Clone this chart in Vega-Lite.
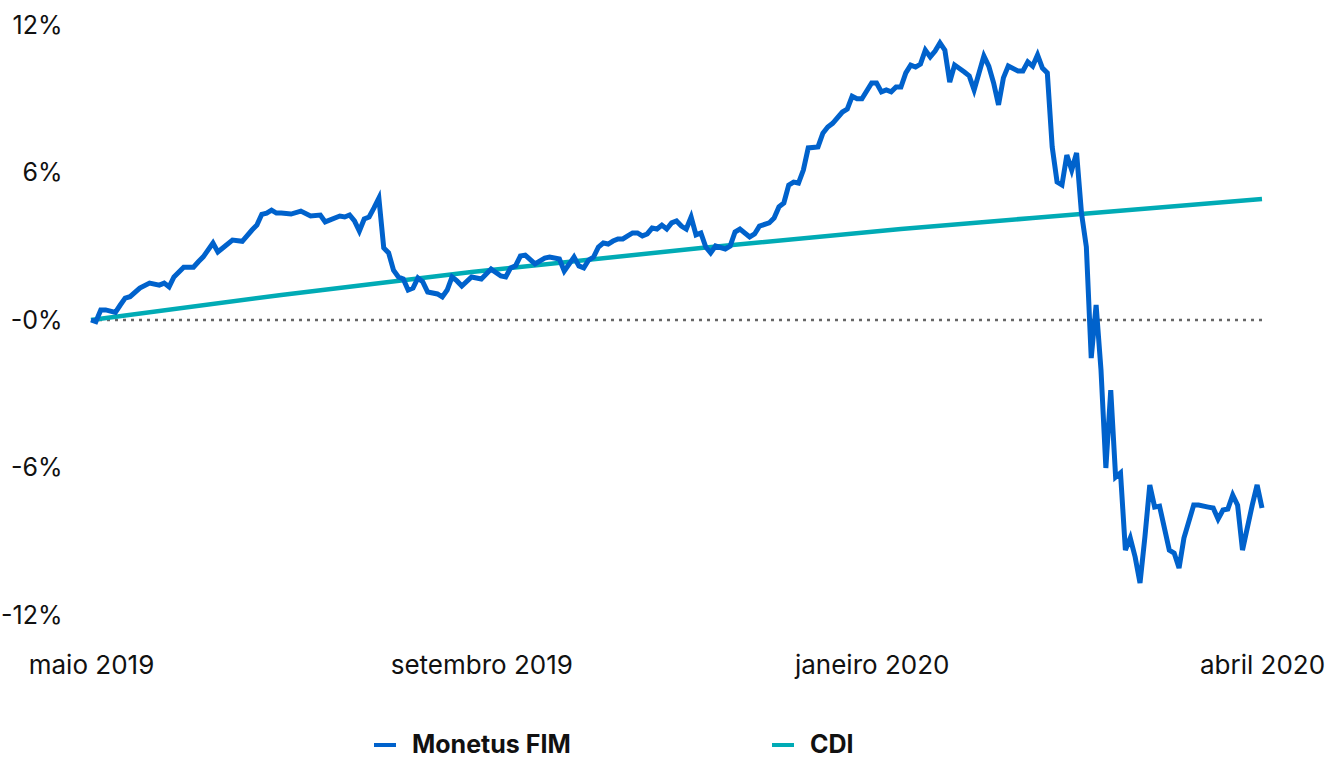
{
  "$schema": "https://vega.github.io/schema/vega-lite/v6.json",
  "width": 1171,
  "height": 590,
  "autosize": {"type": "none"},
  "padding": {"left": 91, "top": 25, "right": 76, "bottom": 143},
  "background": "white",
  "config": {"font": "Inter", "view": {"stroke": null}},
  "datasets": {
    "cdi": [
      {"d": 0, "v": 0}, {"d": 39, "v": 1.02}, {"d": 78, "v": 1.95}, {"d": 125, "v": 2.93},
      {"d": 166, "v": 3.7}, {"d": 193, "v": 4.15}, {"d": 240, "v": 4.92}
    ],
    "monetus": [
      {"d": 0, "v": 0}, {"d": 1, "v": -0.07}, {"d": 2, "v": 0.41}, {"d": 3, "v": 0.41}, {"d": 5, "v": 0.31},
      {"d": 6, "v": 0.61}, {"d": 7, "v": 0.89}, {"d": 8, "v": 0.95}, {"d": 10, "v": 1.3}, {"d": 12, "v": 1.5},
      {"d": 14, "v": 1.42}, {"d": 15, "v": 1.5}, {"d": 16, "v": 1.35}, {"d": 17, "v": 1.75}, {"d": 19, "v": 2.15},
      {"d": 21, "v": 2.15}, {"d": 22, "v": 2.37}, {"d": 23, "v": 2.57}, {"d": 25, "v": 3.13}, {"d": 26, "v": 2.77},
      {"d": 27, "v": 2.93}, {"d": 29, "v": 3.25}, {"d": 31, "v": 3.2}, {"d": 33, "v": 3.66}, {"d": 34, "v": 3.86},
      {"d": 35, "v": 4.3}, {"d": 36, "v": 4.35}, {"d": 37, "v": 4.47}, {"d": 38, "v": 4.35}, {"d": 39, "v": 4.35},
      {"d": 41, "v": 4.31}, {"d": 43, "v": 4.43}, {"d": 45, "v": 4.23}, {"d": 47, "v": 4.27}, {"d": 48, "v": 3.99},
      {"d": 51, "v": 4.23}, {"d": 52, "v": 4.19}, {"d": 53, "v": 4.27}, {"d": 54, "v": 4.03}, {"d": 55, "v": 3.62},
      {"d": 56, "v": 4.11}, {"d": 57, "v": 4.19}, {"d": 58, "v": 4.56}, {"d": 59, "v": 4.96}, {"d": 60, "v": 2.93},
      {"d": 61, "v": 2.73}, {"d": 62, "v": 2.03}, {"d": 63, "v": 1.75}, {"d": 64, "v": 1.67}, {"d": 65, "v": 1.22},
      {"d": 66, "v": 1.3}, {"d": 67, "v": 1.71}, {"d": 68, "v": 1.55}, {"d": 69, "v": 1.14}, {"d": 71, "v": 1.06},
      {"d": 72, "v": 0.94}, {"d": 73, "v": 1.22}, {"d": 74, "v": 1.75}, {"d": 75, "v": 1.59}, {"d": 76, "v": 1.38},
      {"d": 78, "v": 1.75}, {"d": 80, "v": 1.67}, {"d": 82, "v": 2.07}, {"d": 84, "v": 1.79}, {"d": 85, "v": 1.75},
      {"d": 86, "v": 2.12}, {"d": 87, "v": 2.2}, {"d": 88, "v": 2.6}, {"d": 89, "v": 2.64}, {"d": 91, "v": 2.28},
      {"d": 93, "v": 2.52}, {"d": 94, "v": 2.56}, {"d": 96, "v": 2.48}, {"d": 97, "v": 1.99}, {"d": 99, "v": 2.56},
      {"d": 100, "v": 2.2}, {"d": 101, "v": 2.12}, {"d": 102, "v": 2.44}, {"d": 103, "v": 2.56}, {"d": 104, "v": 2.97},
      {"d": 105, "v": 3.13}, {"d": 106, "v": 3.09}, {"d": 107, "v": 3.21}, {"d": 108, "v": 3.3}, {"d": 109, "v": 3.3},
      {"d": 110, "v": 3.42}, {"d": 111, "v": 3.54}, {"d": 112, "v": 3.54}, {"d": 113, "v": 3.42}, {"d": 114, "v": 3.5},
      {"d": 115, "v": 3.74}, {"d": 116, "v": 3.7}, {"d": 117, "v": 3.86}, {"d": 118, "v": 3.7}, {"d": 119, "v": 3.95},
      {"d": 120, "v": 4.03}, {"d": 121, "v": 3.82}, {"d": 122, "v": 3.7}, {"d": 123, "v": 4.19}, {"d": 124, "v": 3.46},
      {"d": 125, "v": 3.54}, {"d": 126, "v": 2.97}, {"d": 127, "v": 2.73}, {"d": 128, "v": 3.01}, {"d": 130, "v": 2.89},
      {"d": 131, "v": 3.01}, {"d": 132, "v": 3.58}, {"d": 133, "v": 3.7}, {"d": 135, "v": 3.38}, {"d": 136, "v": 3.5},
      {"d": 137, "v": 3.82}, {"d": 139, "v": 3.95}, {"d": 140, "v": 4.15}, {"d": 141, "v": 4.6}, {"d": 142, "v": 4.76},
      {"d": 143, "v": 5.49}, {"d": 144, "v": 5.61}, {"d": 145, "v": 5.57}, {"d": 146, "v": 6.1}, {"d": 147, "v": 7.0},
      {"d": 149, "v": 7.04}, {"d": 150, "v": 7.6}, {"d": 151, "v": 7.85}, {"d": 152, "v": 8.0}, {"d": 154, "v": 8.46},
      {"d": 155, "v": 8.58}, {"d": 156, "v": 9.1}, {"d": 157, "v": 9.0}, {"d": 158, "v": 9.0}, {"d": 160, "v": 9.64},
      {"d": 161, "v": 9.64}, {"d": 162, "v": 9.28}, {"d": 163, "v": 9.36}, {"d": 164, "v": 9.28}, {"d": 165, "v": 9.48},
      {"d": 166, "v": 9.48}, {"d": 167, "v": 10.05}, {"d": 168, "v": 10.37}, {"d": 169, "v": 10.29}, {"d": 170, "v": 10.41},
      {"d": 171, "v": 10.98}, {"d": 172, "v": 10.7}, {"d": 173, "v": 10.94}, {"d": 174, "v": 11.27}, {"d": 175, "v": 10.98},
      {"d": 176, "v": 9.68}, {"d": 177, "v": 10.37}, {"d": 179, "v": 10.09}, {"d": 180, "v": 9.93}, {"d": 181, "v": 9.36},
      {"d": 182, "v": 10.05}, {"d": 183, "v": 10.74}, {"d": 184, "v": 10.33}, {"d": 185, "v": 9.64}, {"d": 186, "v": 8.75},
      {"d": 187, "v": 9.85}, {"d": 188, "v": 10.33}, {"d": 190, "v": 10.13}, {"d": 191, "v": 10.13}, {"d": 192, "v": 10.5},
      {"d": 193, "v": 10.33}, {"d": 194, "v": 10.78}, {"d": 195, "v": 10.25}, {"d": 196, "v": 10.05}, {"d": 197, "v": 7.04},
      {"d": 198, "v": 5.61}, {"d": 199, "v": 5.49}, {"d": 200, "v": 6.71}, {"d": 201, "v": 6.1}, {"d": 202, "v": 6.8},
      {"d": 203, "v": 4.35}, {"d": 204, "v": 2.97}, {"d": 205, "v": -1.55}, {"d": 206, "v": 0.61}, {"d": 207, "v": -2.03},
      {"d": 208, "v": -6.02}, {"d": 209, "v": -2.85}, {"d": 210, "v": -6.39}, {"d": 211, "v": -6.22}, {"d": 212, "v": -9.36},
      {"d": 213, "v": -8.87}, {"d": 214, "v": -9.64}, {"d": 215, "v": -10.7}, {"d": 216, "v": -8.83}, {"d": 217, "v": -6.71},
      {"d": 218, "v": -7.61}, {"d": 219, "v": -7.57}, {"d": 221, "v": -9.36}, {"d": 222, "v": -9.48}, {"d": 223, "v": -10.09},
      {"d": 224, "v": -8.87}, {"d": 226, "v": -7.53}, {"d": 227, "v": -7.53}, {"d": 229, "v": -7.61}, {"d": 230, "v": -7.65},
      {"d": 231, "v": -8.1}, {"d": 232, "v": -7.73}, {"d": 233, "v": -7.69}, {"d": 234, "v": -7.12}, {"d": 235, "v": -7.53},
      {"d": 236, "v": -9.36}, {"d": 238, "v": -7.53}, {"d": 239, "v": -6.71}, {"d": 240, "v": -7.65}
    ]
  },
  "layer": [
    {
      "data": {"values": [{"z": 0}]},
      "mark": {"type": "rule", "color": "#666666", "strokeDash": [3, 5], "strokeWidth": 2.5},
      "encoding": {
        "y": {"datum": 0, "type": "quantitative", "scale": {"domain": [-12, 12], "nice": false}}
      }
    },
    {
      "data": {"name": "cdi"},
      "mark": {"type": "line", "strokeWidth": 4.5, "strokeCap": "butt"},
      "encoding": {
        "x": {"field": "d", "type": "quantitative", "scale": {"domain": [0, 240], "nice": false, "zero": false},
          "axis": {"values": [0, 80, 160, 240], "labelExpr": "datum.value == 0 ? 'maio 2019' : datum.value == 80 ? 'setembro 2019' : datum.value == 160 ? 'janeiro 2020' : 'abril 2020'",
            "title": null, "domain": false, "ticks": false, "grid": false, "labelFontSize": 26, "labelColor": "#111111",
            "labelPadding": 37, "labelFlush": false, "labelOverlap": false, "labelAlign": "center", "labelLimit": 0}},
        "y": {"field": "v", "type": "quantitative", "scale": {"domain": [-12, 12], "nice": false},
          "axis": {"values": [-12, -6, 0, 6, 12], "labelExpr": "datum.value == 0 ? '-0%' : datum.value + '%'",
            "title": null, "domain": false, "ticks": false, "grid": false, "labelFontSize": 25, "labelColor": "#111111",
            "labelPadding": 29, "labelFlush": false, "labelOverlap": false, "labelLimit": 0}},
        "color": {"datum": "CDI", "type": "nominal",
          "scale": {"domain": ["Monetus FIM", "CDI"], "range": ["#0062CC", "#00ABB5"]},
          "legend": {"orient": "none", "legendX": 281, "legendY": 707, "direction": "horizontal", "title": null,
            "symbolType": "stroke", "symbolSize": 484, "symbolStrokeWidth": 4, "labelFontSize": 25, "labelLimit": 0,
            "labelFontWeight": "bold", "labelColor": "#111111", "labelOffset": 14, "columnPadding": 193}}
      }
    },
    {
      "data": {"name": "monetus"},
      "mark": {"type": "line", "strokeWidth": 5, "strokeJoin": "miter"},
      "encoding": {
        "x": {"field": "d", "type": "quantitative"},
        "y": {"field": "v", "type": "quantitative"},
        "color": {"datum": "Monetus FIM", "type": "nominal"}
      }
    }
  ]
}
